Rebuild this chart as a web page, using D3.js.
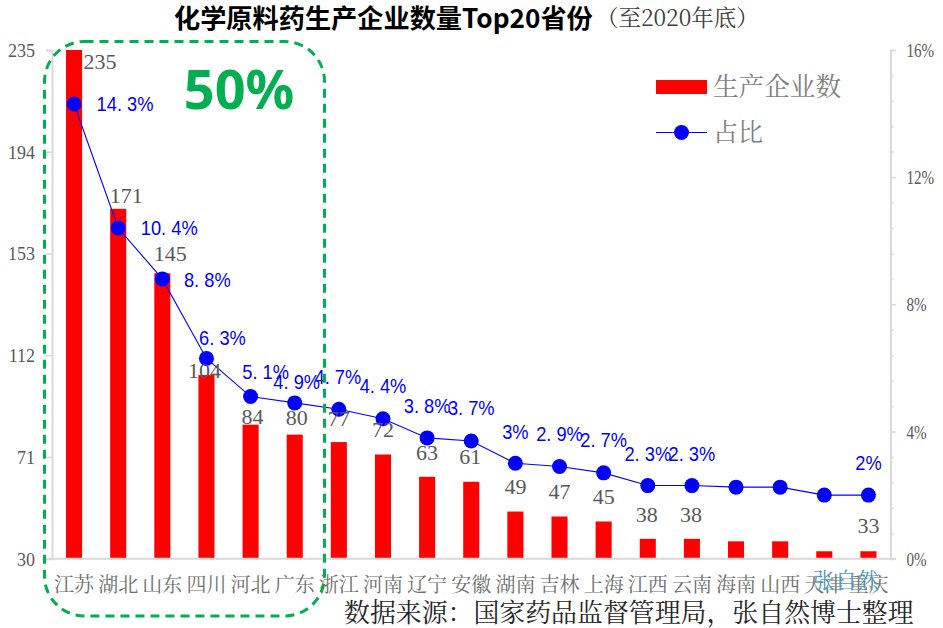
<!DOCTYPE html>
<html><head><meta charset="utf-8">
<script src="https://cdn.jsdelivr.net/npm/d3@7/dist/d3.min.js"></script>
<style>html,body{margin:0;padding:0;background:#fff;overflow:hidden}svg{display:block}</style>
</head><body><svg id="c" width="943" height="628"></svg>
<script>
const provinces = ["江苏","湖北","山东","四川","河北","广东","浙江","河南","辽宁","安徽","湖南","吉林","上海","江西","云南","海南","山西","天津","重庆"];
const companies = [235,171,145,104,84,80,77,72,63,61,49,47,45,38,38,37,37,33,33];
const shares = [14.3,10.4,8.8,6.3,5.1,4.9,4.7,4.4,3.8,3.7,3,2.9,2.7,2.3,2.3,2.25,2.25,2,2];
const countLabelled = [1,1,1,1,1,1,1,1,1,1,1,1,1,1,1,0,0,0,1];
const shareLabelled = [1,1,1,1,1,1,1,1,1,1,1,1,1,1,1,0,0,0,1];
const leftTicks = [30,71,112,153,194,235];
const rightTicks = [0,0.8,1.6,2.4,3.2,4,4.8,5.6,6.4,7.2,8,8.8,9.6,10.4,11.2,12,12.8,13.6,14.4,15.2,16];
const rightLabelled = [0,4,8,12,16];
// label nudges (layout only)
const countDx = [26,8,8,-2,2,2,0,0,0,-1,0,0,0,-1,-1,0,0,0,0];
const countDy = [11,-14,-20,-5,-8,-17,-24,-25,-25,-25,-25,-25,-25,-25,-25,0,0,0,-26];
const shareDx = [51,51,45,16,15,2,-1,0,0,0,0,0,0,0,0,0,0,0,0];
const shareDy = [0,0,1,-21,-25,-21,-33,-33,-32,-33,-32,-33,-33,-32,-32,0,0,0,-32];

const SERIF = '"Liberation Serif","Noto Serif CJK SC","Noto Sans CJK SC",serif';
const CJK = '"Noto Serif CJK SC","Noto Sans CJK SC","Liberation Serif",serif';
const svg = d3.select("#c");
const L=52,R=890.5,T=50,B=558.7;
const x = d3.scaleBand().domain(provinces).range([L,R]).paddingInner(0.636).paddingOuter(0.318);
const y = d3.scaleLinear().domain([30,235]).range([B,T]);
const y2 = d3.scaleLinear().domain([0,16]).range([B,T]);
const cx = p => x(p)+x.bandwidth()/2;
const AX="#d9d9d9";
const squeeze = (sel,k) => sel.each(function(){
  const n=this.getComputedTextLength();
  if(n>0) d3.select(this).attr("textLength",n*k).attr("lengthAdjust","spacingAndGlyphs");
});

// bars
svg.append("g").selectAll("rect").data(provinces).join("rect")
 .attr("x",d=>x(d)).attr("width",x.bandwidth())
 .attr("y",(d,i)=>y(companies[i])).attr("height",(d,i)=>B-y(companies[i])).attr("fill","#ff0000");

// axes
const ga = svg.append("g").attr("transform",`translate(${L},0)`)
 .call(d3.axisLeft(y).tickValues(leftTicks).tickSize(6).tickPadding(11));
ga.select(".domain").attr("stroke",AX).attr("stroke-width",2);
ga.selectAll("line").attr("stroke",AX).attr("stroke-width",1.5);
ga.selectAll("text").attr("font-family",SERIF).attr("font-size",18).attr("fill","#595959").attr("dy","0.36em");
const gr = svg.append("g").attr("transform",`translate(${R},0)`)
 .call(d3.axisRight(y2).tickValues(rightTicks).tickSize(3).tickPadding(8).tickFormat(d=>rightLabelled.includes(d)?d+"%":""));
gr.select(".domain").attr("stroke",AX).attr("stroke-width",2);
gr.selectAll("line").attr("stroke",AX).attr("stroke-width",1.5).attr("x2",d=>rightLabelled.includes(d)?5.5:3);
gr.selectAll("text").attr("font-family",SERIF).attr("font-size",18).attr("fill","#595959").attr("x",16).attr("dy","0.36em")
 .call(squeeze,0.84);
const gb = svg.append("g").attr("transform",`translate(0,${B})`)
 .call(d3.axisBottom(x).tickSize(0).tickPadding(19));
gb.select(".domain").attr("d",`M46,0H896`).attr("stroke",AX).attr("stroke-width",2);
gb.selectAll("text").attr("font-family",CJK).attr("font-size",20).attr("fill","#6e6e6e");

// line
svg.append("path").datum(provinces)
 .attr("d",d3.line().x(cx).y((d,i)=>y2(shares[i])))
 .attr("fill","none").attr("stroke","#0000ff").attr("stroke-width",1.1);
svg.append("g").selectAll("circle").data(provinces).join("circle")
 .attr("cx",cx).attr("cy",(d,i)=>y2(shares[i])).attr("r",7.5).attr("fill","#0000ff");

// count labels
svg.append("g").selectAll("text").data(provinces).join("text")
 .filter((d,i)=>countLabelled[i])
 .attr("x",d=>cx(d)+countDx[provinces.indexOf(d)])
 .attr("y",d=>y(companies[provinces.indexOf(d)])+countDy[provinces.indexOf(d)])
 .attr("dy","0.35em").attr("text-anchor","middle")
 .attr("font-family",SERIF).attr("font-size",22).attr("fill","#595959")
 .text(d=>companies[provinces.indexOf(d)]);

// share labels
const fmt = v => String(v).replace(".",". ")+"%";
svg.append("g").selectAll("text").data(provinces).join("text")
 .filter((d,i)=>shareLabelled[i])
 .attr("x",d=>cx(d)+shareDx[provinces.indexOf(d)])
 .attr("y",d=>y2(shares[provinces.indexOf(d)])+shareDy[provinces.indexOf(d)])
 .attr("dy","0.35em").attr("text-anchor","middle").attr("xml:space","preserve")
 .attr("font-family",'"Liberation Sans",sans-serif').attr("font-size",21).attr("fill","#0000ff")
 .text(d=>fmt(shares[provinces.indexOf(d)]))
 .call(squeeze,0.87);

// highlight box
svg.append("rect").attr("x",44.5).attr("y",41.5).attr("width",280).attr("height",574.5).attr("rx",40).attr("ry",40)
 .attr("fill","none").attr("stroke","#00b050").attr("stroke-width",3).attr("stroke-dasharray","9 6");
svg.append("text").attr("x",239).attr("y",109).attr("text-anchor","middle")
 .attr("font-family",'"Noto Sans","Open Sans",sans-serif').attr("font-weight",700).attr("font-size",54).attr("fill","#00b050").text("50%");

// title
const title = svg.append("text").attr("x",174).attr("y",28);
title.append("tspan").attr("font-family",'"Noto Sans CJK SC",sans-serif').attr("font-weight",700).attr("font-size",26.2).attr("fill","#000").text("化学原料药生产企业数量Top20省份");
svg.append("text").attr("x",596).attr("y",26).attr("font-family",CJK).attr("font-size",22.5).attr("fill","#404040").text("（至2020年底）");

// legend
svg.append("rect").attr("x",656).attr("y",80).attr("width",51).attr("height",14).attr("fill","#ff0000");
svg.append("text").attr("x",713).attr("y",96).attr("font-family",CJK).attr("font-size",25.6).attr("fill","#7f7f7f").text("生产企业数");
svg.append("line").attr("x1",656).attr("x2",707).attr("y1",132.5).attr("y2",132.5).attr("stroke","#0000ff").attr("stroke-width",1.2);
svg.append("circle").attr("cx",681.5).attr("cy",132.5).attr("r",7.5).attr("fill","#0000ff");
svg.append("text").attr("x",713).attr("y",141).attr("font-family",CJK).attr("font-size",25).attr("fill","#7f7f7f").text("占比");

// source + watermark
svg.append("text").attr("x",344).attr("y",622).attr("font-family",CJK).attr("font-size",25.9).attr("fill","#262626").text("数据来源：国家药品监督管理局，张自然博士整理");
svg.append("text").attr("x",813).attr("y",588).attr("font-family",CJK).attr("font-size",22).attr("fill","#4f9cc4").text("张自然");
</script></body></html>
